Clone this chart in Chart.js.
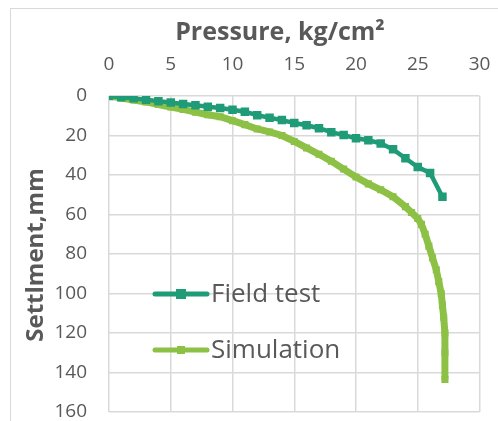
<!DOCTYPE html>
<html>
<head>
<meta charset="utf-8">
<script src="https://cdn.jsdelivr.net/npm/chart.js@4"></script>
<style>
  html, body { margin: 0; padding: 0; background: #fff; overflow: hidden; }
  #wrap { position: relative; width: 498px; height: 421px; }
  #frame { position: absolute; left: 10px; top: 8px; width: 520px; height: 440px; border: 1px solid #d9d9d9; box-sizing: border-box; }
  canvas { position: absolute; left: 0; top: 0; }
</style>
</head>
<body>
<div id="wrap">
  <div id="frame"></div>
  <canvas id="chart" width="498" height="421"></canvas>
</div>
<script>
// Field test (pressure kg/cm2, settlement mm)
const fieldPressure = [0, 1, 2, 3, 4, 5, 6, 7, 8, 9, 10, 11, 12, 13, 14, 15, 16, 17, 18, 19, 20, 21, 22, 23, 24, 25, 26, 27];
const fieldSettlement = [0, 0.6, 1.2, 1.9, 2.6, 3.3, 4, 4.7, 5.4, 6.1, 7, 8, 9.7, 11, 12.2, 13.7, 14.8, 16.3, 18.3, 19.8, 21.4, 22.4, 24, 27, 31.5, 36, 39, 51];

// Simulation
const simPressure = [0, 1, 2, 3, 4, 5, 6, 7, 8, 9, 10, 11, 12, 13, 14, 15, 16, 17, 18, 19, 20, 21, 22, 23, 24, 24.5, 25, 25.3, 25.6, 25.9, 26.2, 26.5, 26.7, 26.9, 27, 27.1, 27.2, 27.2, 27.2];
const simSettlement = [0, 1, 2, 3, 4.3, 5.6, 6.8, 8.2, 9.5, 10.5, 12.5, 14.5, 16.7, 18.2, 20, 23, 26.3, 29.5, 33, 37, 41, 44.5, 47.5, 51, 56, 59, 62, 65, 70, 76, 82, 88, 94, 100, 106, 112, 120, 130, 143.5];

const xTicks = [0, 5, 10, 15, 20, 25, 30];
const yTicks = [0, 20, 40, 60, 80, 100, 120, 140, 160];
const seriesNames = ['Field test', 'Simulation'];
const xTitle = 'Pressure, kg/cm\u00b2';
const yTitle = 'Settlment,mm';

const FONT = '"Open Sans", sans-serif';
const TXT = '#595959';
const GRID = '#d9d9d9';
const C_FIELD = '#1f9c77';
const C_SIM = '#8dc146';

const toPts = (xs, ys) => xs.map((x, i) => ({ x: x, y: ys[i] }));

const extras = {
  id: 'extras',
  afterDraw(chart) {
    const ctx = chart.ctx;
    ctx.save();
    ctx.fillStyle = TXT;
    ctx.font = 'bold 25px ' + FONT;
    ctx.textAlign = 'center';
    ctx.textBaseline = 'middle';
    ctx.fillText(xTitle, 280, 33);
    ctx.font = 'bold 24px ' + FONT;
    ctx.translate(36, 255);
    ctx.rotate(-Math.PI / 2);
    ctx.fillText(yTitle, 0, 0);
    ctx.restore();

    // legend inside plot
    const items = [
      { name: seriesNames[0], color: C_FIELD, y: 294, lw: 5, box: 10 },
      { name: seriesNames[1], color: C_SIM, y: 350, lw: 5, box: 8 }
    ];
    ctx.save();
    items.forEach(it => {
      ctx.strokeStyle = it.color;
      ctx.lineWidth = it.lw;
      ctx.lineCap = 'round';
      ctx.beginPath();
      ctx.moveTo(155, it.y);
      ctx.lineTo(207, it.y);
      ctx.stroke();
      ctx.fillStyle = it.color;
      ctx.fillRect(181 - it.box / 2, it.y - it.box / 2, it.box, it.box);
      ctx.fillStyle = TXT;
      ctx.font = '26px ' + FONT;
      ctx.textAlign = 'left';
      ctx.textBaseline = 'middle';
      ctx.fillText(it.name, 211, it.y + 1);
    });
    ctx.restore();
  }
};

new Chart(document.getElementById('chart'), {
  type: 'line',
  data: {
    datasets: [
      {
        label: seriesNames[0],
        data: toPts(fieldPressure, fieldSettlement),
        borderColor: C_FIELD,
        backgroundColor: C_FIELD,
        borderWidth: 4.5,
        pointStyle: 'rect',
        pointRadius: 6,
        pointBorderWidth: 0,
        order: 1
      },
      {
        label: seriesNames[1],
        data: toPts(simPressure, simSettlement),
        borderColor: C_SIM,
        backgroundColor: C_SIM,
        borderWidth: 7,
        pointStyle: 'rect',
        pointRadius: 5,
        pointBorderWidth: 0,
        order: 2
      }
    ]
  },
  options: {
    responsive: false,
    animation: false,
    layout: { padding: { left: 0, top: 0, right: 18.5, bottom: 9 } },
    plugins: { legend: { display: false }, tooltip: { enabled: false } },
    scales: {
      x: {
        type: 'linear',
        position: 'top',
        min: 0,
        max: 30,
        afterBuildTicks: s => { s.ticks = xTicks.map(v => ({ value: v })); },
        afterFit: s => { s.height = 96; s.paddingLeft = 0; s.paddingRight = 0; },
        ticks: { color: TXT, font: { family: FONT, size: 19 }, padding: 20, maxRotation: 0 },
        grid: { color: GRID, lineWidth: 1.5, drawTicks: false },
        border: { display: false }
      },
      y: {
        type: 'linear',
        reverse: true,
        min: 0,
        max: 160,
        afterBuildTicks: s => { s.ticks = yTicks.map(v => ({ value: v })); },
        afterFit: s => { s.width = 109; s.paddingTop = 0; s.paddingBottom = 0; },
        ticks: { color: TXT, font: { family: FONT, size: 19 }, padding: 22 },
        grid: { color: GRID, lineWidth: 1.5, drawTicks: false },
        border: { display: false }
      }
    }
  },
  plugins: [extras]
});
</script>
</body>
</html>
